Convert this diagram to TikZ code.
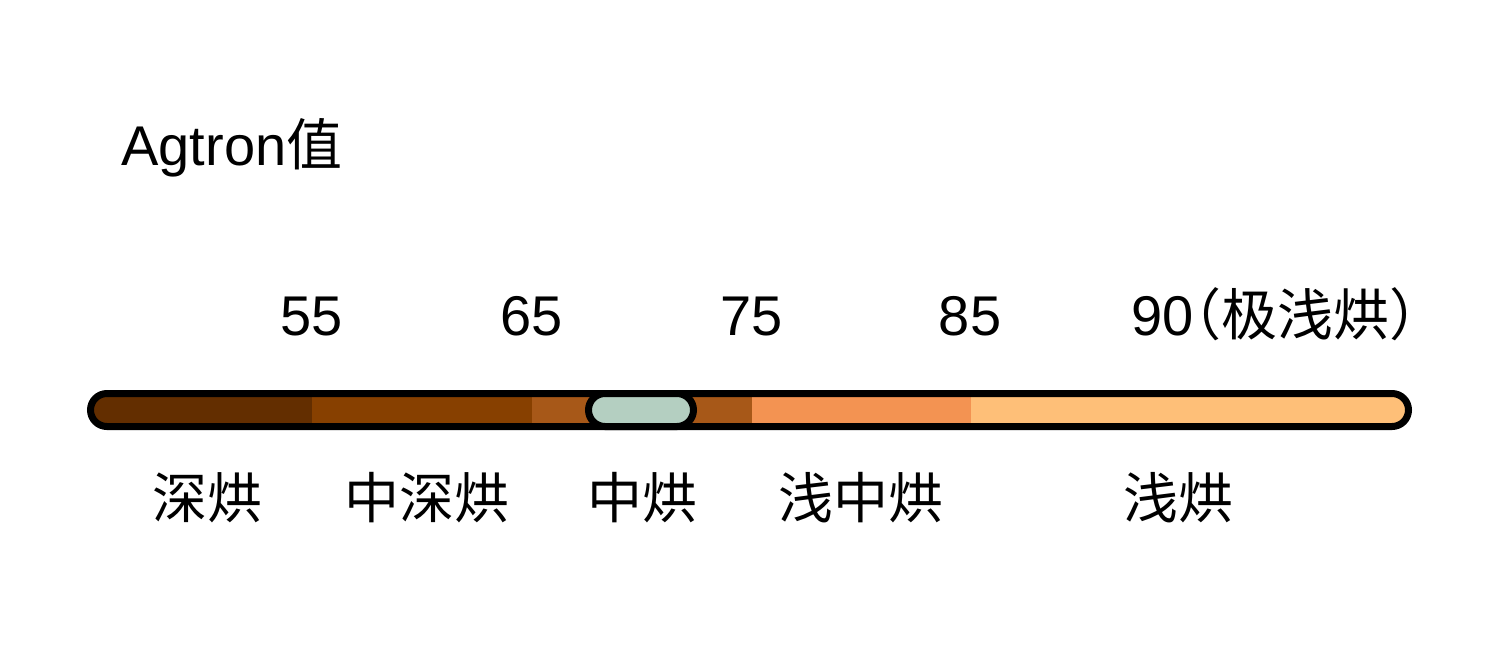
\documentclass[tikz,border=0pt]{standalone}
\usepackage{fontspec}
\setmainfont{Liberation Sans}
\newfontfamily\cjk{Noto Sans CJK SC}
\newfontfamily\cjkhalt{Noto Sans CJK SC}[RawFeature=+halt]
\definecolor{segA}{HTML}{632E00}
\definecolor{segB}{HTML}{874000}
\definecolor{segC}{HTML}{A75818}
\definecolor{segD}{HTML}{F39352}
\definecolor{segE}{HTML}{FEBF78}
\definecolor{mk}{HTML}{B4CFC1}
\begin{document}
\begin{tikzpicture}[x=0.5pt,y=-0.5pt,
  lbl/.style={font=\fontsize{28}{33}\selectfont, inner sep=0pt},
  cjklbl/.style={font=\fontsize{27.5}{33}\selectfont\cjk, inner sep=0pt},
  barline/.style={line width=3.5pt, rounded corners=8.25pt}]
\useasboundingbox (0,0) rectangle (1500,660);
% title
\node[lbl, anchor=base west] (title) at (121,165) {Agtron{\cjk 值}};
% numbers
\node[lbl, anchor=base] (n55) at (312,335) {55};
\node[lbl, anchor=base] (n65) at (532,335) {65};
\node[lbl, anchor=base] (n75) at (752,335) {75};
\node[lbl, anchor=base] (n85) at (970,335) {85};
\node[lbl, anchor=base west] (n90) at (1131,335) {90{\cjkhalt （极浅烘）}};
% bar
\begin{scope}
  \path[clip, rounded corners=8.25pt] (90.5,393.5) rectangle (1408.5,426.5);
  \fill[segA] (80,385) rectangle (312,435);
  \fill[segB] (312,385) rectangle (532,435);
  \fill[segC] (532,385) rectangle (752,435);
  \fill[segD] (752,385) rectangle (971,435);
  \fill[segE] (971,385) rectangle (1420,435);
\end{scope}
\draw[barline] (90.5,393.5) rectangle (1408.5,426.5);
% marker
\draw[barline, fill=mk] (588.5,393.5) rectangle (693.5,426.5);
% labels
\node[cjklbl] (l1) at (207,498) {深烘};
\node[cjklbl] (l2) at (427,498) {中深烘};
\node[cjklbl] (l3) at (642,498) {中烘};
\node[cjklbl] (l4) at (861,498) {浅中烘};
\node[cjklbl] (l5) at (1178,498) {浅烘};
\end{tikzpicture}
\end{document}
